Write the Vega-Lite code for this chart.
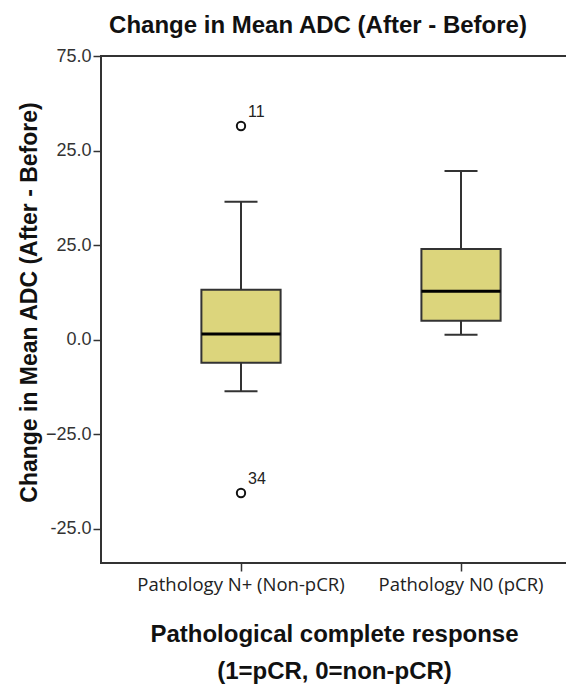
{
  "$schema": "https://vega.github.io/schema/vega-lite/v6.json",
  "width": 466,
  "height": 507,
  "autosize": {"type": "none"},
  "padding": {"left": 101, "top": 56, "right": 0, "bottom": 122},
  "background": "white",
  "title": {
    "text": "Change in Mean ADC (After - Before)",
    "font": "Liberation Sans",
    "fontSize": 24,
    "fontWeight": "bold",
    "color": "#111",
    "anchor": "middle",
    "dx": -16,
    "offset": 9
  },
  "config": {
    "view": {"stroke": "#333", "strokeWidth": 2},
    "axis": {"grid": false, "domain": false}
  },
  "datasets": {
    "stats": [
      {"group": "Pathology N+ (Non-pCR)", "lower": -13.6, "q1": -6.1, "median": 1.5, "q3": 13.2, "upper": 36.5},
      {"group": "Pathology N0 (pCR)", "lower": 1.3, "q1": 5.0, "median": 12.8, "q3": 24.0, "upper": 44.6}
    ],
    "outliers": [
      {"group": "Pathology N+ (Non-pCR)", "value": 56.5, "label": "11"},
      {"group": "Pathology N+ (Non-pCR)", "value": -40.5, "label": "34"}
    ]
  },
  "encoding": {
    "x": {
      "field": "group",
      "type": "nominal",
      "sort": null,
      "scale": {
        "domain": ["Pathology N+ (Non-pCR)", "Pathology N0 (pCR)"],
        "paddingInner": 0.64,
        "paddingOuter": 0.379,
        "align": 0.602
      },
      "axis": {
        "labelAngle": 0,
        "labelFont": "Open Sans",
        "labelFontSize": 18.5,
        "labelLimit": 0,
        "labelColor": "#222",
        "labelPadding": 4,
        "tickSize": 8,
        "tickColor": "#333",
        "tickWidth": 1.5,
        "title": ["Pathological complete response", "(1=pCR, 0=non-pCR)"],
        "titleFont": "Liberation Sans",
        "titleFontSize": 24,
        "titleFontWeight": "bold",
        "titleColor": "#111",
        "titleLineHeight": 37,
        "titlePadding": 29
      }
    }
  },
  "layer": [
    {
      "data": {"name": "stats"},
      "mark": {"type": "rule", "color": "#333", "strokeWidth": 2},
      "encoding": {
        "y": {
          "field": "lower",
          "type": "quantitative",
          "scale": {"domain": [-59, 75], "nice": false, "zero": false},
          "axis": {
            "values": [-50, -25, 0, 25, 50, 75],
            "labelExpr": "datum.value == 50 ? '25.0' : datum.value == -50 ? '-25.0' : format(datum.value, '.1f')",
            "labelFont": "Liberation Sans",
            "labelFontSize": 18,
            "labelColor": "#333",
            "labelPadding": 2,
            "tickSize": 8,
            "tickColor": "#333",
            "tickWidth": 1.5,
            "title": "Change in Mean ADC (After - Before)",
            "titleFont": "Liberation Sans",
            "titleFontSize": 23,
            "titleFontWeight": "bold",
            "titleColor": "#111",
            "titlePadding": 4,
            "titleY": 246
          }
        },
        "y2": {"field": "upper"}
      }
    },
    {
      "data": {"name": "stats"},
      "mark": {"type": "bar", "fill": "#dcd57c", "stroke": "#333", "strokeWidth": 2},
      "encoding": {
        "y": {"field": "q1", "type": "quantitative"},
        "y2": {"field": "q3"}
      }
    },
    {
      "data": {"name": "stats"},
      "mark": {"type": "tick", "color": "#000", "size": 79, "thickness": 3, "opacity": 1},
      "encoding": {"y": {"field": "median", "type": "quantitative"}}
    },
    {
      "data": {"name": "stats"},
      "mark": {"type": "tick", "color": "#333", "size": 33, "thickness": 2, "opacity": 1},
      "encoding": {"y": {"field": "lower", "type": "quantitative"}}
    },
    {
      "data": {"name": "stats"},
      "mark": {"type": "tick", "color": "#333", "size": 33, "thickness": 2, "opacity": 1},
      "encoding": {"y": {"field": "upper", "type": "quantitative"}}
    },
    {
      "data": {"name": "outliers"},
      "mark": {"type": "point", "shape": "circle", "filled": false, "stroke": "#111", "strokeWidth": 2, "size": 70, "opacity": 1},
      "encoding": {"y": {"field": "value", "type": "quantitative"}}
    },
    {
      "data": {"name": "outliers"},
      "mark": {"type": "text", "align": "left", "baseline": "middle", "dx": 7, "dy": -14, "font": "Liberation Sans", "fontSize": 16, "color": "#222"},
      "encoding": {
        "y": {"field": "value", "type": "quantitative"},
        "text": {"field": "label"}
      }
    }
  ]
}
